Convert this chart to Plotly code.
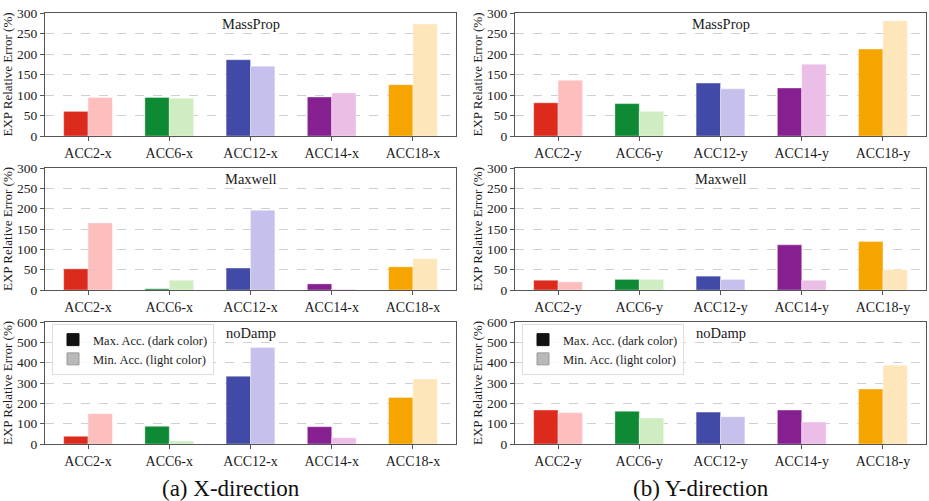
import plotly.graph_objects as go

# ---------------- data ----------------
cats_x = ["ACC2-x", "ACC6-x", "ACC12-x", "ACC14-x", "ACC18-x"]
cats_y = ["ACC2-y", "ACC6-y", "ACC12-y", "ACC14-y", "ACC18-y"]

massprop_x_max = [60, 94, 186, 95, 125]
massprop_x_min = [94, 92, 170, 105, 273]
maxwell_x_max = [52, 3, 54, 15, 57]
maxwell_x_min = [165, 24, 196, 1.5, 77]
nodamp_x_max = [38, 87, 333, 85, 229]
nodamp_x_min = [149, 15, 474, 31, 320]

massprop_y_max = [81, 79, 129, 117, 212]
massprop_y_min = [136, 60, 115, 175, 281]
maxwell_y_max = [24, 26, 34, 111, 119]
maxwell_y_min = [20, 26, 26, 24, 50]
nodamp_y_max = [167, 161, 157, 167, 270]
nodamp_y_min = [154, 128, 134, 108, 387]

dark_colors = ["#DC2B1D", "#0E8A35", "#414AA6", "#861F90", "#F6A500"]
light_colors = ["#FFBEBE", "#CFEDC0", "#C6C1EC", "#EBBEE8", "#FDE6BA"]

panel_titles = ["MassProp", "Maxwell", "noDamp"]
y_max = [300, 300, 600]
y_dtick = [50, 50, 100]
legend_labels = ["Max. Acc. (dark color)", "Min. Acc. (light color)"]
captions = ["(a) X-direction", "(b) Y-direction"]

# ---------------- layout geometry ----------------
W, H = 929, 501
x_doms = [(45 / W, 456 / W), (515 / W, 926 / W)]
rows_px = [(13, 136), (168, 290), (322, 444)]
y_doms = [(1 - b / H, 1 - t / H) for t, b in rows_px]

FONT = "Liberation Serif"

fig = go.Figure()

data = [
    [(massprop_x_max, massprop_x_min), (massprop_y_max, massprop_y_min)],
    [(maxwell_x_max, maxwell_x_min), (maxwell_y_max, maxwell_y_min)],
    [(nodamp_x_max, nodamp_x_min), (nodamp_y_max, nodamp_y_min)],
]

layout_axes = {}
annotations = []
idx = 0
for r in range(3):
    for c in range(2):
        idx += 1
        xa = "x" if idx == 1 else f"x{idx}"
        ya = "y" if idx == 1 else f"y{idx}"
        xkey = "xaxis" if idx == 1 else f"xaxis{idx}"
        ykey = "yaxis" if idx == 1 else f"yaxis{idx}"
        cats = cats_x if c == 0 else cats_y
        vmax, vmin = data[r][c]
        fig.add_trace(go.Bar(
            x=cats, y=vmax, xaxis=xa, yaxis=ya, showlegend=False,
            marker=dict(color=dark_colors, line=dict(color="rgba(255,255,255,0.35)", width=1)),
        ))
        fig.add_trace(go.Bar(
            x=cats, y=vmin, xaxis=xa, yaxis=ya, showlegend=False,
            marker=dict(color=light_colors, line=dict(color="rgba(255,255,255,0.35)", width=1)),
        ))
        layout_axes[xkey] = dict(
            domain=x_doms[c], anchor=ya, type="category",
            range=[-0.53, 4.53],
            showline=True, mirror=True, linecolor="#555", linewidth=1.2,
            ticks="outside", ticklen=4, tickcolor="#555",
            showgrid=False, zeroline=False,
            tickfont=dict(family=FONT, size=14, color="#1a1a1a"),
            fixedrange=True,
        )
        layout_axes[ykey] = dict(
            domain=y_doms[r], anchor=xa,
            range=[0, y_max[r]], dtick=y_dtick[r],
            showline=True, mirror=True, linecolor="#555", linewidth=1.2,
            ticks="outside", ticklen=4, tickcolor="#555",
            showgrid=True, gridcolor="#CFCFCF", gridwidth=0.8, griddash="dash",
            zeroline=False,
            tickfont=dict(family=FONT, size=13.5, color="#1a1a1a"),
            title=dict(text="EXP Relative Error (%)", font=dict(family=FONT, size=13, color="#1a1a1a"),
                       standoff=1),
            automargin=False,
            fixedrange=True,
        )
        annotations.append(dict(
            text=panel_titles[r], xref="paper", yref="paper",
            x=(x_doms[c][0] + x_doms[c][1]) / 2, y=y_doms[r][1],
            xanchor="center", yanchor="top", yshift=-1, showarrow=False,
            font=dict(family=FONT, size=14.5, color="#1a1a1a"),
        ))

# legend dummy traces on hidden axes
for i, lg in enumerate(["legend", "legend2"]):
    fig.add_trace(go.Bar(x=[None], y=[None], name=legend_labels[0], legend=lg,
                         xaxis="x7", yaxis="y7", marker=dict(color="#111111", line=dict(color="#111", width=1))))
    fig.add_trace(go.Bar(x=[None], y=[None], name=legend_labels[1], legend=lg,
                         xaxis="x7", yaxis="y7", marker=dict(color="#BBB8B8", line=dict(color="#9a9a9a", width=1))))

layout_axes["xaxis7"] = dict(domain=[0, 0.01], anchor="y7", visible=False)
layout_axes["yaxis7"] = dict(domain=[0, 0.01], anchor="x7", visible=False)

for c, cap in enumerate(captions):
    annotations.append(dict(
        text=cap, xref="paper", yref="paper",
        x=(x_doms[c][0] + x_doms[c][1]) / 2 - 20 / W, y=1 - 488 / H,
        xanchor="center", yanchor="middle", showarrow=False,
        font=dict(family=FONT, size=23, color="#111"),
    ))

legend_common = dict(
    bgcolor="rgba(255,255,255,0.85)", bordercolor="#DDDDDD", borderwidth=1,
    font=dict(family=FONT, size=12.5, color="#1a1a1a"),
    xanchor="left", yanchor="top", tracegroupgap=0, itemwidth=30,
)

fig.update_layout(
    width=W, height=H,
    margin=dict(l=0, r=0, t=0, b=0),
    paper_bgcolor="white", plot_bgcolor="white",
    barmode="group", bargap=0.4, bargroupgap=0,
    annotations=annotations,
    legend=dict(x=52 / W, y=1 - 324 / H, **legend_common),
    legend2=dict(x=522 / W, y=1 - 324 / H, **legend_common),
    **layout_axes,
)

fig.write_html("out.html", config={"displayModeBar": False},
               post_script="document.body.style.margin='0';document.body.style.overflow='hidden';")
